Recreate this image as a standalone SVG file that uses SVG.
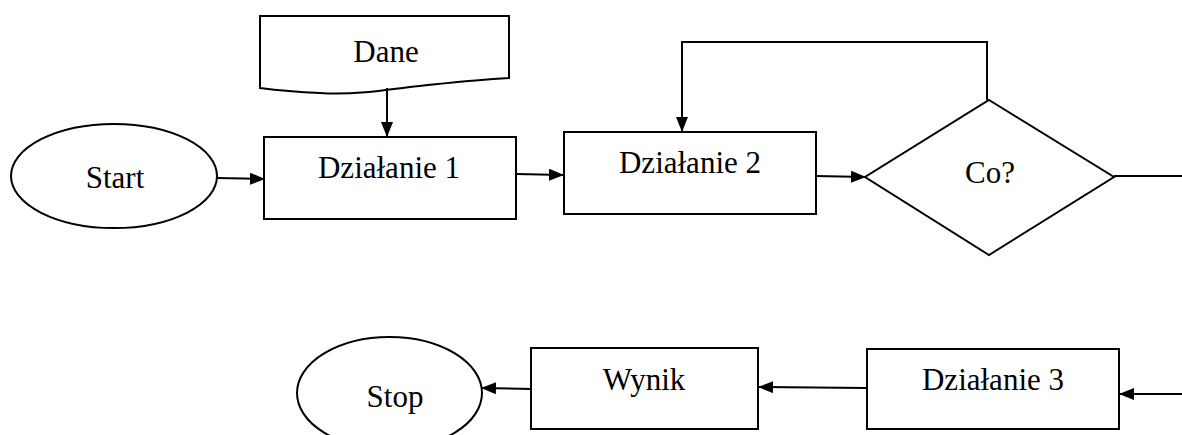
<svg xmlns="http://www.w3.org/2000/svg" width="1182" height="435" viewBox="0 0 1182 435">
  <style>
    .shape { fill: #ffffff; stroke: #000000; stroke-width: 2; }
    .label { font-family: "Liberation Serif", "Times New Roman", serif; font-size: 31px; fill: #000000; text-anchor: middle; }
    .conn { fill: none; stroke: #000000; stroke-width: 2; }
  </style>
  <defs>
    <!-- filled triangular arrowhead, 15 long by 12 wide -->
    <marker id="arrow" viewBox="0 0 15 12" refX="14" refY="6" markerWidth="15" markerHeight="12" markerUnits="userSpaceOnUse" orient="auto">
      <path d="M0,0 L15,6 L0,12 Z" fill="#000000"/>
    </marker>
  </defs>
  <rect width="1182" height="435" fill="#ffffff"/>

  <g id="start">
    <ellipse class="shape" cx="114" cy="176" rx="103" ry="52"/>
    <text class="label" x="115" y="188">Start</text>
  </g>

  <g id="dane">
    <path class="shape" d="M260,16 H509 V78 C470,80 440,84 410,87 C380,91 350,95 320,93 C295,92 275,90 260,88 Z"/>
    <text class="label" x="386" y="62">Dane</text>
  </g>

  <g id="dzialanie1">
    <rect class="shape" x="264" y="137" width="252" height="82"/>
    <text class="label" x="389" y="178">Działanie 1</text>
  </g>

  <g id="dzialanie2">
    <rect class="shape" x="564" y="132" width="252" height="82"/>
    <text class="label" x="690" y="173">Działanie 2</text>
  </g>

  <g id="decyzja">
    <polygon class="shape" points="989,100 1114,177 989,255 865,177"/>
    <text class="label" x="990" y="183">Co?</text>
  </g>

  <g id="dzialanie3">
    <rect class="shape" x="867" y="349" width="252" height="80"/>
    <text class="label" x="993" y="390">Działanie 3</text>
  </g>

  <g id="wynik">
    <rect class="shape" x="531" y="348" width="227" height="81"/>
    <text class="label" x="644" y="390">Wynik</text>
  </g>

  <g id="stop">
    <ellipse class="shape" cx="389.5" cy="393" rx="92.5" ry="56"/>
    <text class="label" x="395" y="407">Stop</text>
  </g>

  <g id="connectors">
    <line class="conn" x1="217" y1="178" x2="264" y2="179" marker-end="url(#arrow)"/>
    <line class="conn" x1="387" y1="88" x2="387" y2="136" marker-end="url(#arrow)"/>
    <line class="conn" x1="516" y1="174" x2="563" y2="175" marker-end="url(#arrow)"/>
    <line class="conn" x1="816" y1="176" x2="865" y2="177" marker-end="url(#arrow)"/>
    <polyline class="conn" points="987,100 987,42 682,42 682,131" marker-end="url(#arrow)"/>
    <line class="conn" x1="1114" y1="176" x2="1182" y2="176"/>
    <line class="conn" x1="1182" y1="394" x2="1120" y2="394" marker-end="url(#arrow)"/>
    <line class="conn" x1="867" y1="388" x2="759" y2="387" marker-end="url(#arrow)"/>
    <line class="conn" x1="531" y1="389" x2="482" y2="388" marker-end="url(#arrow)"/>
  </g>
</svg>
